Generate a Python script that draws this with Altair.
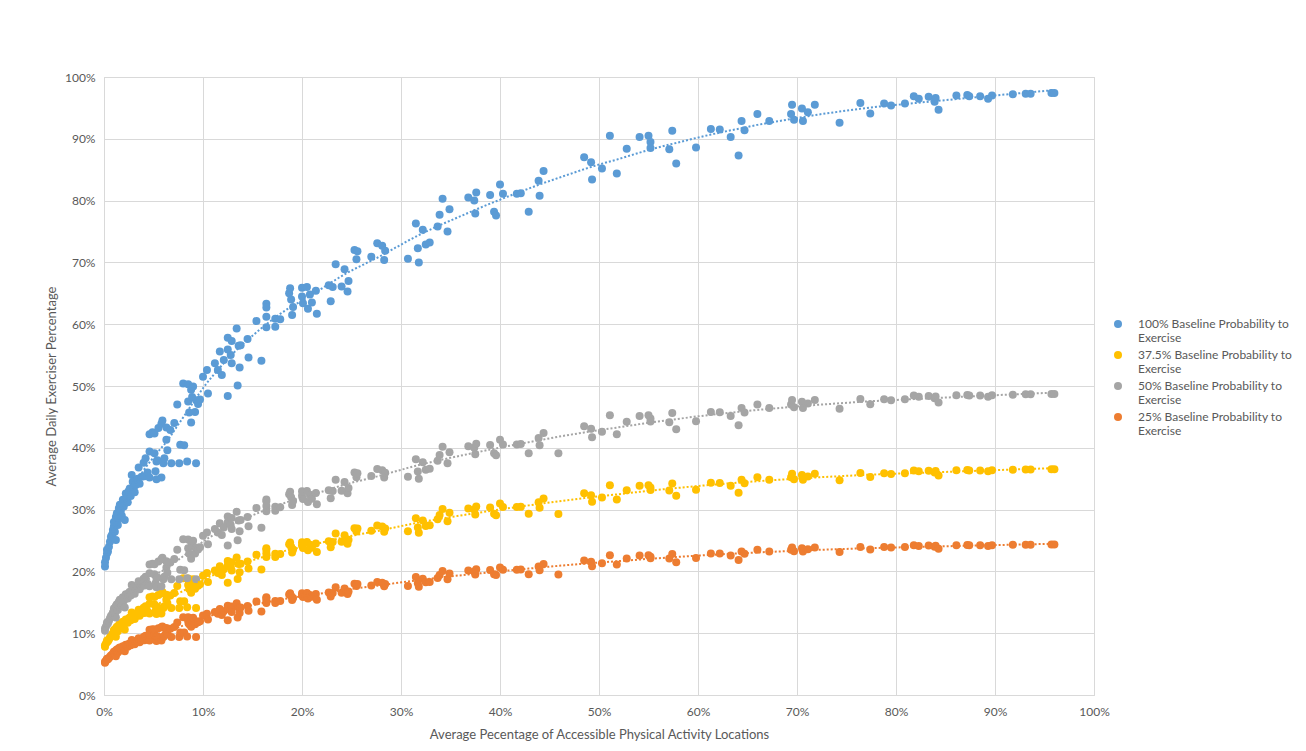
import altair as alt
import pandas as pd

# Shared x positions (Average % of accessible physical activity locations)
x_vals = [0.1, 0.1, 0.2, 0.3, 0.3, 0.4, 0.5, 0.6, 0.7, 0.8, 0.9, 0.9, 1.0, 1.0, 1.1, 1.2, 1.2, 1.3, 1.4, 1.5,
          1.5, 1.6, 1.7, 1.8, 1.9, 2.0, 2.1, 2.2, 2.3, 2.4, 2.5, 2.6, 2.7, 2.8, 2.9, 3.0, 3.1, 3.2, 3.4, 3.5,
          3.6, 3.8, 4.0, 4.1, 4.2, 4.4, 4.6, 4.6, 4.6, 4.9, 5.1, 5.1, 5.2, 5.3, 5.3, 5.4, 5.5, 5.8, 5.8, 5.9,
          6.0, 6.1, 6.3, 6.3, 6.4, 6.7, 6.8, 7.1, 7.4, 7.6, 7.7, 8.0, 8.1, 8.4, 8.5, 8.5, 8.6, 8.8, 8.8, 8.9,
          9.0, 9.2, 9.3, 9.3, 9.5, 9.7, 10.0, 10.4, 10.5, 11.2, 11.5, 11.7, 11.9, 12.1, 12.5, 12.5, 12.5, 12.8, 12.9, 12.9,
          13.4, 13.5, 13.6, 13.7, 13.8, 14.5, 14.6, 15.4, 15.9, 16.4, 16.4, 16.4, 16.4, 17.3, 17.3, 17.8, 18.7, 18.8, 18.9, 19.0,
          19.1, 20.0, 20.0, 20.1, 20.5, 20.6, 20.8, 21.0, 21.4, 21.5, 22.7, 22.9, 23.1, 23.4, 24.0, 24.3, 24.6, 24.7, 25.3, 25.5,
          25.6, 27.0, 27.6, 28.1, 28.3, 28.4, 30.7, 31.5, 31.7, 31.8, 32.2, 32.5, 32.9, 33.7, 33.9, 34.2, 34.7, 34.9, 36.8, 37.4,
          37.5, 37.6, 39.0, 39.4, 39.6, 40.0, 40.3, 41.7, 42.1, 42.9, 43.9, 44.0, 44.4, 45.9, 48.5, 49.2, 49.3, 50.3, 51.1, 51.8,
          52.8, 54.1, 55.0, 55.2, 55.2, 57.1, 57.4, 57.8, 59.8, 61.3, 62.2, 63.3, 64.1, 64.4, 64.7, 66.0, 67.2, 69.4, 69.5, 69.7,
          70.5, 70.6, 71.1, 71.8, 74.3, 76.4, 77.4, 78.8, 79.5, 80.9, 81.8, 82.3, 83.3, 83.9, 84.0, 84.3, 86.1, 87.2, 87.4, 88.5,
          89.3, 89.7, 91.8, 93.1, 93.6, 95.7, 96.0]

y_100 = [20.8, 21.5, 22.2, 22.9, 23.5, 23.2, 24.0, 24.8, 25.6, 25.9, 26.2, 26.7, 27.3, 28.0, 26.4, 25.1, 28.8, 29.4, 27.5, 28.6,
         30.2, 30.8, 29.8, 29.0, 31.6, 30.5, 28.3, 32.6, 31.8, 31.2, 33.0, 33.4, 32.2, 35.6, 34.5, 33.6, 32.8, 34.0, 35.0, 36.8,
         34.2, 35.3, 37.6, 35.4, 38.3, 36.0, 35.2, 39.4, 42.2, 42.5, 39.1, 42.3, 36.2, 34.9, 37.8, 38.0, 43.2, 35.2, 43.9, 44.4,
         37.5, 38.3, 41.3, 43.3, 39.6, 42.9, 37.5, 44.0, 47.0, 37.5, 40.5, 50.4, 40.4, 37.8, 47.5, 50.3, 45.7, 44.1, 49.4, 48.2,
         49.9, 45.8, 37.5, 47.7, 47.1, 47.8, 51.5, 52.6, 48.8, 53.7, 52.6, 55.6, 51.8, 54.2, 55.9, 57.8, 48.4, 55.0, 57.3, 53.7,
         59.3, 50.1, 56.5, 53.0, 56.6, 57.6, 54.6, 60.5, 54.1, 63.3, 62.7, 61.2, 59.5, 60.9, 59.6, 60.8, 65.0, 65.8, 64.0, 61.5,
         62.8, 65.9, 64.5, 63.4, 66.0, 62.5, 64.8, 63.5, 65.4, 61.7, 66.3, 63.7, 66.0, 69.7, 66.1, 68.9, 65.3, 67.0, 72.0, 70.5,
         71.8, 70.9, 73.1, 72.7, 70.4, 71.9, 70.6, 76.3, 72.3, 70.0, 75.3, 72.9, 73.2, 75.8, 77.7, 80.3, 75.0, 78.6, 80.5, 80.0,
         77.9, 81.3, 80.9, 78.2, 77.6, 82.6, 81.1, 81.1, 81.2, 78.2, 83.2, 80.8, 84.8, None, 87.0, 86.2, 83.4, 85.2, 90.5, 84.4,
         88.4, 90.3, 90.5, 89.5, 88.5, 88.3, 91.3, 86.0, 88.6, 91.6, 91.5, 90.3, 87.3, 92.9, 91.4, 94.0, 92.9, 94.0, 95.5, 93.1,
         94.9, 92.9, 94.3, 95.5, 92.6, 95.8, 94.1, 95.7, 95.4, 95.7, 96.9, 96.5, 96.8, 96.0, 96.6, 94.7, 97.0, 97.1, 96.9, 96.9,
         96.5, 97.0, 97.2, 97.3, 97.3, 97.4, 97.4]

y_375 = [7.8, 8.06, 8.33, 8.59, 8.81, 8.7, 9.0, 9.3, 9.6, 9.71, 9.83, 10.01, 10.24, 10.5, 9.9, 9.41, 10.8, 11.03, 10.31, 10.73,
         11.33, 11.55, 11.18, 10.88, 11.85, 11.44, 10.61, 12.23, 11.93, 11.7, 12.38, 12.53, 12.08, 13.35, 12.94, 12.6, 12.3, 12.75, 13.13, 13.8,
         12.83, 13.24, 14.1, 13.28, 14.36, 13.5, 13.2, 14.78, 15.83, 15.94, 14.66, 15.86, 13.58, 13.09, 14.18, 14.25, 16.2, 13.2, 16.46, 16.65,
         14.06, 14.36, 15.49, 16.24, 14.85, 16.09, 14.06, 16.5, 17.63, 14.06, 15.19, 18.9, 15.15, 14.18, 17.81, 18.86, 17.14, 16.54, 18.53, 18.08,
         18.71, 17.18, 14.06, 17.89, 17.66, 17.93, 19.31, 19.73, 18.3, 20.14, 19.73, 20.85, 19.43, 20.33, 20.96, 21.68, 18.15, 20.63, 21.49, 20.14,
         22.24, 18.79, 21.19, 19.88, 21.23, 21.6, 20.48, 22.69, 20.29, 23.74, 23.51, 22.95, 22.31, 22.84, 22.35, 22.8, 24.38, 24.68, 24.0, 23.06,
         23.55, 24.71, 24.19, 23.78, 24.75, 23.44, 24.3, 23.81, 24.53, 23.14, 24.86, 23.89, 24.75, 26.14, 24.79, 25.84, 24.49, 25.13, 27.0, 26.44,
         26.93, 26.59, 27.41, 27.26, 26.4, 26.96, 26.48, 28.61, 27.11, 26.25, 28.24, 27.34, 27.45, 28.43, 29.14, 30.11, 28.13, 29.48, 30.19, 30.0,
         29.21, 30.49, 30.34, 29.33, 29.1, 30.98, 30.41, 30.41, 30.45, 29.33, 31.2, 30.3, 31.8, 29.3, 32.63, 32.33, 31.28, 31.95, 33.94, 31.65,
         33.15, 33.86, 33.94, 33.56, 33.19, 33.11, 34.24, 32.25, 33.23, 34.35, 34.31, 33.86, 32.74, 34.84, 34.28, 35.25, 34.84, 35.25, 35.81, 34.91,
         35.59, 34.84, 35.36, 35.81, 34.73, 35.93, 35.29, 35.89, 35.78, 35.89, 36.34, 36.19, 36.3, 36.0, 36.23, 35.51, 36.38, 36.41, 36.34, 36.34,
         36.19, 36.38, 36.45, 36.49, 36.49, 36.53, 36.53]

y_50 = [10.4, 10.75, 11.1, 11.45, 11.75, 11.6, 12.0, 12.4, 12.8, 12.95, 13.1, 13.35, 13.65, 14.0, 13.2, 12.55, 14.4, 14.7, 13.75, 14.3,
        15.1, 15.4, 14.9, 14.5, 15.8, 15.25, 14.15, 16.3, 15.9, 15.6, 16.5, 16.7, 16.1, 17.8, 17.25, 16.8, 16.4, 17.0, 17.5, 18.4,
        17.1, 17.65, 18.8, 17.7, 19.15, 18.0, 17.6, 19.7, 21.1, 21.25, 19.55, 21.15, 18.1, 17.45, 18.9, 19.0, 21.6, 17.6, 21.95, 22.2,
        18.75, 19.15, 20.65, 21.65, 19.8, 21.45, 18.75, 22.0, 23.5, 18.75, 20.25, 25.2, 20.2, 18.9, 23.75, 25.15, 22.85, 22.05, 24.7, 24.1,
        24.95, 22.9, 18.75, 23.85, 23.55, 23.9, 25.75, 26.3, 24.4, 26.85, 26.3, 27.8, 25.9, 27.1, 27.95, 28.9, 24.2, 27.5, 28.65, 26.85,
        29.65, 25.05, 28.25, 26.5, 28.3, 28.8, 27.3, 30.25, 27.05, 31.65, 31.35, 30.6, 29.75, 30.45, 29.8, 30.4, 32.5, 32.9, 32.0, 30.75,
        31.4, 32.95, 32.25, 31.7, 33.0, 31.25, 32.4, 31.75, 32.7, 30.85, 33.15, 31.85, 33.0, 34.85, 33.05, 34.45, 32.65, 33.5, 36.0, 35.25,
        35.9, 35.45, 36.55, 36.35, 35.2, 35.95, 35.3, 38.15, 36.15, 35.0, 37.65, 36.45, 36.6, 37.9, 38.85, 40.15, 37.5, 39.3, 40.25, 40.0,
        38.95, 40.65, 40.45, 39.1, 38.8, 41.3, 40.55, 40.55, 40.6, 39.1, 41.6, 40.4, 42.4, 39.1, 43.5, 43.1, 41.7, 42.6, 45.25, 42.2,
        44.2, 45.15, 45.25, 44.75, 44.25, 44.15, 45.65, 43.0, 44.3, 45.8, 45.75, 45.15, 43.65, 46.45, 45.7, 47.0, 46.45, 47.0, 47.75, 46.55,
        47.45, 46.45, 47.15, 47.75, 46.3, 47.9, 47.05, 47.85, 47.7, 47.85, 48.45, 48.25, 48.4, 48.0, 48.3, 47.35, 48.5, 48.55, 48.45, 48.45,
        48.25, 48.5, 48.6, 48.65, 48.65, 48.7, 48.7]

y_25 = [5.2, 5.38, 5.55, 5.73, 5.88, 5.8, 6.0, 6.2, 6.4, 6.48, 6.55, 6.68, 6.83, 7.0, 6.6, 6.28, 7.2, 7.35, 6.88, 7.15,
        7.55, 7.7, 7.45, 7.25, 7.9, 7.63, 7.08, 8.15, 7.95, 7.8, 8.25, 8.35, 8.05, 8.9, 8.63, 8.4, 8.2, 8.5, 8.75, 9.2,
        8.55, 8.83, 9.4, 8.85, 9.58, 9.0, 8.8, 9.85, 10.55, 10.63, 9.78, 10.58, 9.05, 8.73, 9.45, 9.5, 10.8, 8.8, 10.98, 11.1,
        9.38, 9.58, 10.33, 10.83, 9.9, 10.73, 9.38, 11.0, 11.75, 9.38, 10.13, 12.6, 10.1, 9.45, 11.88, 12.58, 11.43, 11.03, 12.35, 12.05,
        12.48, 11.45, 9.38, 11.93, 11.78, 11.95, 12.88, 13.15, 12.2, 13.43, 13.15, 13.9, 12.95, 13.55, 13.98, 14.45, 12.1, 13.75, 14.33, 13.43,
        14.83, 12.53, 14.13, 13.25, 14.15, 14.4, 13.65, 15.13, 13.53, 15.83, 15.68, 15.3, 14.88, 15.23, 14.9, 15.2, 16.25, 16.45, 16.0, 15.38,
        15.7, 16.48, 16.13, 15.85, 16.5, 15.63, 16.2, 15.88, 16.35, 15.43, 16.58, 15.93, 16.5, 17.43, 16.53, 17.23, 16.33, 16.75, 18.0, 17.63,
        17.95, 17.73, 18.28, 18.18, 17.6, 17.98, 17.65, 19.08, 18.08, 17.5, 18.83, 18.23, 18.3, 18.95, 19.43, 20.08, 18.75, 19.65, 20.13, 20.0,
        19.48, 20.33, 20.23, 19.55, 19.4, 20.65, 20.28, 20.28, 20.3, 19.55, 20.8, 20.2, 21.2, 19.5, 21.75, 21.55, 20.85, 21.3, 22.63, 21.1,
        22.1, 22.58, 22.63, 22.38, 22.13, 22.08, 22.83, 21.5, 22.15, 22.9, 22.88, 22.58, 21.83, 23.23, 22.85, 23.5, 23.23, 23.5, 23.88, 23.28,
        23.73, 23.23, 23.58, 23.88, 23.15, 23.95, 23.53, 23.93, 23.85, 23.93, 24.23, 24.13, 24.2, 24.0, 24.15, 23.68, 24.25, 24.28, 24.23, 24.23,
        24.13, 24.25, 24.3, 24.33, 24.33, 24.35, 24.35]

series_names = ["100% Baseline Probability to Exercise",
                "37.5% Baseline Probability to Exercise",
                "50% Baseline Probability to Exercise",
                "25% Baseline Probability to Exercise"]
series_colors = ["#5B9BD5", "#FFC000", "#A5A5A5", "#ED7D31"]
x_ticks = list(range(0, 101, 10))
y_ticks = list(range(0, 101, 10))

rows = []
for k, (name, ys) in enumerate(zip(series_names, [y_100, y_375, y_50, y_25])):
    for xv, yv in zip(x_vals, ys):
        if yv is not None:
            rows.append({"series": name, "x": xv, "y": yv, "k": k})
df = pd.DataFrame(rows)

FONT = "Lato"
GRID = "#D9D9D9"
TXT = "#595959"

x_enc = alt.X("x:Q",
              scale=alt.Scale(domain=[0, 100], nice=False),
              axis=alt.Axis(values=x_ticks, labelExpr="datum.value + '%'",
                            title="Average Pecentage of Accessible Physical Activity Locations",
                            grid=True, gridColor=GRID, domainColor=GRID, ticks=False,
                            labelFlush=False,
                            labelColor=TXT, titleColor=TXT, labelFontSize=12, titleFontSize=13,
                            labelFont=FONT, titleFont=FONT, titleFontWeight="normal",
                            labelPadding=11, titlePadding=11))
y_enc = alt.Y("y:Q",
              scale=alt.Scale(domain=[0, 100], nice=False),
              axis=alt.Axis(values=y_ticks, labelExpr="datum.value + '%'",
                            title="Average Daily Exerciser Percentage",
                            grid=True, gridColor=GRID, domainColor=GRID, ticks=False,
                            labelFlush=False,
                            labelColor=TXT, titleColor=TXT, labelFontSize=12, titleFontSize=13,
                            labelFont=FONT, titleFont=FONT, titleFontWeight="normal",
                            labelPadding=9, titlePadding=6))

color_scale = alt.Scale(domain=series_names, range=series_colors)

points = alt.Chart(df).mark_circle(size=64, opacity=1).encode(
    x=x_enc, y=y_enc,
    color=alt.Color("series:N", scale=color_scale, sort=series_names,
                    legend=alt.Legend(orient="none", legendX=1008, legendY=241, title=None,
                                      symbolType="circle", symbolSize=64, symbolStrokeWidth=0,
                                      labelFont=FONT, labelFontSize=12, labelColor=TXT,
                                      labelLimit=300, labelOffset=14,
                                      labelExpr="[replace(datum.label, ' Exercise', ''), 'Exercise']",
                                      labelBaseline="middle", rowPadding=5)),
    order=alt.Order("k:Q"),
)

trend = alt.Chart(df).transform_loess(
    "x", "y", groupby=["series"], bandwidth=0.18
).mark_line(strokeDash=[2, 2], strokeWidth=2).encode(
    x="x:Q", y="y:Q",
    color=alt.Color("series:N", scale=color_scale, legend=None),
)

chart = alt.layer(points, trend).properties(
    width=990, height=618,
    padding={"left": 96, "top": 69, "right": 204, "bottom": 48},
    autosize=alt.AutoSizeParams(type="none"),
).configure_view(stroke=GRID)

chart.save("out.html", embed_options={"renderer": "svg", "actions": False})
